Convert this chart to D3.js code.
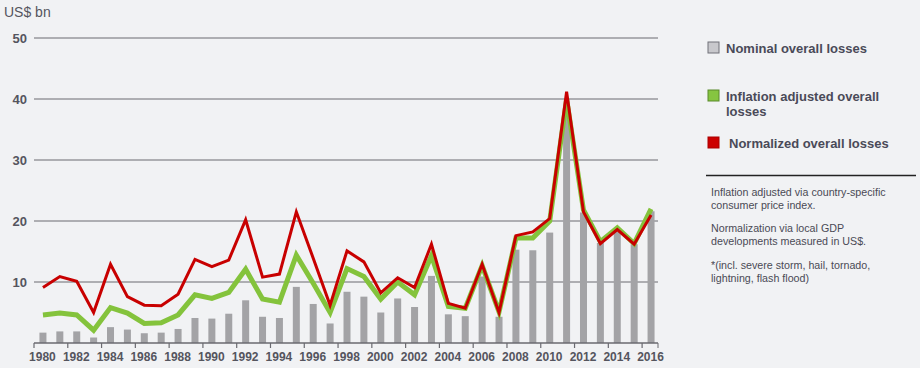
<!DOCTYPE html>
<html><head><meta charset="utf-8">
<script src="https://cdn.jsdelivr.net/npm/d3@7"></script>
<style>
body{margin:0;background:#f1f2f4;}
svg{display:block;font-family:Arial, "Liberation Sans", sans-serif;}
</style></head>
<body>
<svg id="c" width="920" height="368"></svg>
<script>
const years = d3.range(1980, 2017);
const nominal = [1.7,1.9,1.9,0.9,2.6,2.2,1.6,1.7,2.3,4.1,4.0,4.8,7.0,4.3,4.1,9.2,6.4,3.2,8.4,7.6,5.0,7.3,5.9,11.0,4.7,4.4,10.9,4.3,15.3,15.2,18.1,38.0,21.4,16.4,18.2,16.2,21.6];
const inflation = [4.6,4.9,4.6,2.1,5.8,4.9,3.2,3.3,4.6,7.9,7.3,8.3,12.1,7.2,6.7,14.4,9.8,5.0,12.2,10.9,7.2,10.0,7.9,14.3,6.0,5.7,12.7,5.1,17.2,17.2,20.0,40.0,21.8,16.6,18.9,16.3,22.0];
const normalized = [9.1,10.9,10.1,5.0,12.9,7.6,6.2,6.1,8.0,13.7,12.5,13.6,20.2,10.8,11.3,21.5,13.9,6.2,15.1,13.3,8.2,10.7,9.1,16.2,6.5,5.7,12.9,5.0,17.6,18.2,20.4,41.2,21.5,16.3,18.6,16.2,21.0];
const yTicks = [10,20,30,40,50];
const xLabels = d3.range(1980, 2017, 2);
const legendItems = [
  {lines:["Nominal overall losses"], fill:"#c8c8cc", stroke:"#707078"},
  {lines:["Inflation adjusted overall","losses"], fill:"#86c540", stroke:"#5a8a2a"},
  {lines:["Normalized overall losses"], fill:"#cc0000", stroke:"#aa0000"}
];
const notes = [
  ["Inflation adjusted via country-specific","consumer price index."],
  ["Normalization via local GDP","developments measured in US$."],
  ["*(incl. severe storm, hail, tornado,","lightning, flash flood)"]
];

const svg = d3.select("#c");
const L = 34, R = 659, T = 38, B = 343;
const x = d3.scaleBand().domain(years).range([L, R]).padding(0);
const y = d3.scaleLinear().domain([0, 50]).range([B, T]);
const textCol = "#4a4a58";

svg.append("g").selectAll("line").data(yTicks).join("line")
  .attr("x1", L).attr("x2", 658).attr("y1", d=>y(d)).attr("y2", d=>y(d))
  .attr("stroke", "#6a6a70").attr("stroke-width", 1);

svg.append("g").selectAll("text").data(yTicks).join("text")
  .attr("x", 27).attr("y", d=>y(d)).attr("dy","0.35em").attr("text-anchor","end")
  .attr("font-size", 13).attr("font-weight","bold").attr("fill","#55555e").text(d=>d);

svg.append("text").attr("x", 4).attr("y", 17).attr("font-size", 14)
  .attr("fill", "#55555e").text("US$ bn");

const bw = 7;
svg.append("g").selectAll("rect").data(years).join("rect")
  .attr("x", d=>x(d)+x.bandwidth()/2 - bw/2 + 0.5).attr("width", bw)
  .attr("y", (d,i)=>y(nominal[i])).attr("height", (d,i)=>B - y(nominal[i]))
  .attr("fill", "#a3a3a6");

const line = d3.line().x((d,i)=>x(years[i])+x.bandwidth()/2 + 0.5).y(d=>y(d));
svg.append("path").datum(inflation).attr("d", line).attr("fill","none")
  .attr("stroke","#84c33c").attr("stroke-width",5).attr("stroke-linejoin","miter");
svg.append("path").datum(normalized).attr("d", line).attr("fill","none")
  .attr("stroke","#c80000").attr("stroke-width",3).attr("stroke-linejoin","miter");

const xa = svg.append("g").attr("transform", `translate(0,${B})`);
xa.append("line").attr("x1", L).attr("x2", 658).attr("stroke","#6a6a70").attr("stroke-width",1.5);
xa.selectAll("line.t").data(xLabels).join("line").attr("class","t")
  .attr("x1", d=>x(d)).attr("x2", d=>x(d)).attr("y1",0).attr("y2",5)
  .attr("stroke","#6a6a70").attr("stroke-width",1.2);
xa.append("line").attr("x1", 658).attr("x2", 658).attr("y1",0).attr("y2",5).attr("stroke","#6a6a70");
xa.selectAll("text").data(xLabels).join("text")
  .attr("x", d=>x(d)+x.bandwidth()/2).attr("y", 18).attr("text-anchor","middle")
  .attr("font-size", 12).attr("font-weight","bold").attr("fill","#55555e").text(d=>d);

const legY = [48, 96, 143];
legendItems.forEach((it, i) => {
  const g = svg.append("g");
  g.append("rect").attr("x", 708).attr("y", legY[i]-6).attr("width", 11).attr("height", 11)
    .attr("fill", it.fill).attr("stroke", it.stroke).attr("stroke-width", 1);
  it.lines.forEach((t, j) => {
    g.append("text").attr("x", i===2?729:726).attr("y", legY[i] + j*15).attr("dy","0.35em")
      .attr("font-size", 13).attr("font-weight","bold").attr("fill", textCol).text(t);
  });
});

svg.append("line").attr("x1", 706).attr("x2", 916).attr("y1", 175.5).attr("y2", 175.5)
  .attr("stroke", "#222").attr("stroke-width", 1.5);

const noteY = [192, 228, 265];
notes.forEach((n, i) => {
  n.forEach((t, j) => {
    svg.append("text").attr("x", 711).attr("y", noteY[i] + j*13).attr("dy","0.35em")
      .attr("font-size", 10.7).attr("fill", "#4a4a55").text(t);
  });
});
</script>
</body></html>
